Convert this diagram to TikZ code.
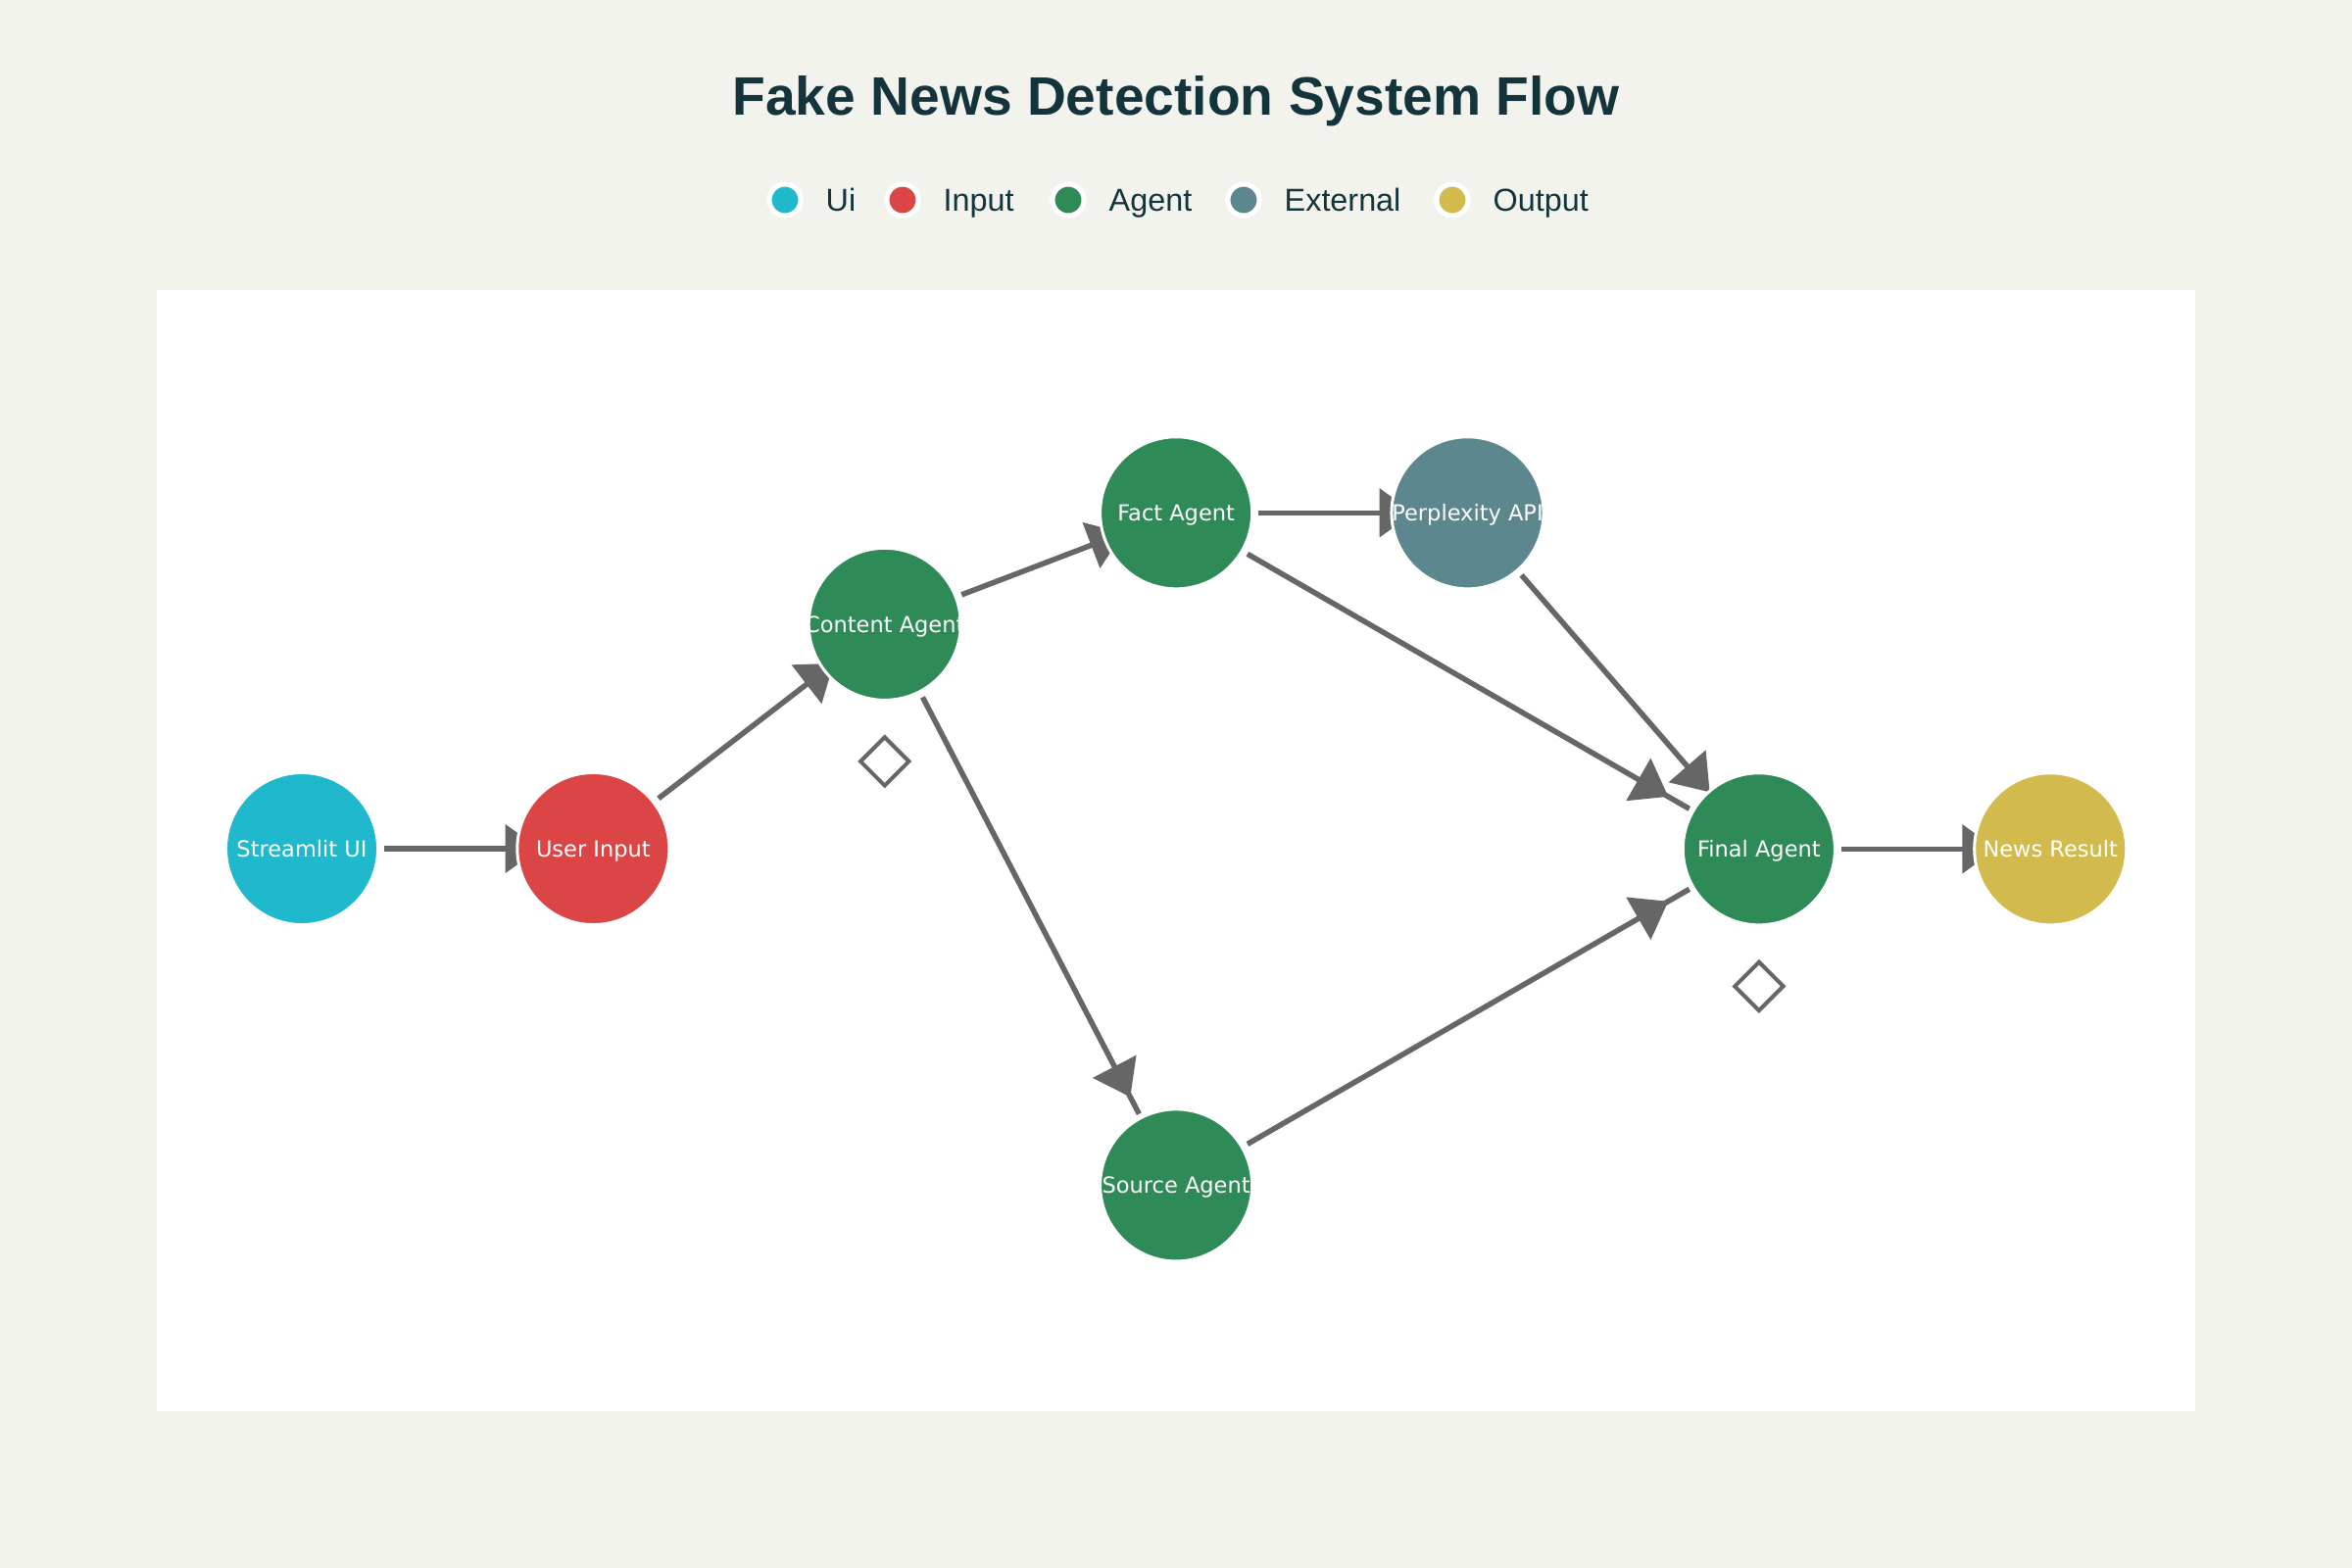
\documentclass[tikz,border=0pt]{standalone}
\usepackage{fontspec}
\setmainfont{Liberation Sans}
\newfontfamily\labelfont{DejaVu Sans}
\usetikzlibrary{positioning,shapes.geometric,arrows.meta,decorations.markings,backgrounds}
\definecolor{pagebg}{HTML}{F3F3EE}
\definecolor{titlecol}{HTML}{13343B}
\definecolor{uicol}{HTML}{1FB8CD}
\definecolor{inputcol}{HTML}{DB4545}
\definecolor{agentcol}{HTML}{2E8B57}
\definecolor{extcol}{HTML}{5D878F}
\definecolor{outcol}{HTML}{D2BA4C}
\definecolor{edgecol}{HTML}{666666}
\begin{document}
\begin{tikzpicture}[x=0.01cm, y=-0.01cm, node distance=2.972cm,
  dot/.style={circle, draw=white, line width=0.03cm, minimum size=1.55cm, inner sep=0pt},
  inlabel/.style={text=white, font=\labelfont\fontsize{6.4}{7.7}\selectfont, text height=4.67pt, text depth=0pt, inner sep=0pt},
  swatch/.style={circle, draw=white, line width=0.05cm, minimum size=0.32cm, inner sep=0pt},
  swatchtext/.style={text=titlecol, font=\fontsize{9.2}{11}\selectfont, text height=6.6pt, text depth=0pt, inner sep=0pt},
  rhomb/.style={diamond, draw=edgecol, line width=0.04cm, minimum width=0.51cm, minimum height=0.51cm, inner sep=0pt},
  flow/.style={color=edgecol,
    postaction={draw, line width=0.055cm, shorten <=0.84cm, shorten >=0.82cm},
    postaction={decorate, decoration={markings, mark=at position {0.866*\pgfdecoratedpathlength-0.15cm} with {\arrow{Triangle[length=0.35cm, width=0.5cm]}}}}}]
\node[text=titlecol, font=\bfseries\fontsize{15.7}{19}\selectfont, text height=11.25pt, text depth=0pt, inner sep=0pt] (title) at (1200,98) {Fake News Detection System Flow};
\node[swatch, fill=uicol] (k1) at (801,204) {};
\node[swatchtext, right=0.225cm of k1] (t1) {Ui};
\node[swatch, fill=inputcol] (k2) at (921,204) {};
\node[swatchtext, right=0.225cm of k2] (t2) {Input};
\node[swatch, fill=agentcol] (k3) at (1090,204) {};
\node[swatchtext, right=0.225cm of k3] (t3) {Agent};
\node[swatch, fill=extcol] (k4) at (1269,204) {};
\node[swatchtext, right=0.225cm of k4] (t4) {External};
\node[swatch, fill=outcol] (k5) at (1482,204) {};
\node[swatchtext, right=0.225cm of k5] (t5) {Output};
\node[dot, fill=uicol, label={[inlabel]center:Streamlit UI}] (1) at (308,866) {};
\node[dot, fill=inputcol, right of=1, label={[inlabel]center:User Input}] (2) {};
\node[dot, fill=agentcol, right of=2, yshift=2.29cm, label={[inlabel]center:Content Agent}] (3) {};
\node[dot, fill=agentcol, right of=3, yshift=1.135cm, label={[inlabel]center:Fact Agent}] (4) {};
\node[dot, fill=extcol, right of=4, label={[inlabel]center:Perplexity API}] (5) {};
\node[dot, fill=agentcol, right of=5, yshift=-3.428cm, label={[inlabel]center:Final Agent}] (6) {};
\node[dot, fill=outcol, right of=6, label={[inlabel]center:News Result}] (7) {};
\node[dot, fill=agentcol, node distance=6.857cm, below of=4, label={[inlabel]center:Source Agent}] (8) {};
\node[rhomb, node distance=1.4cm, below of=3] (9) {};
\node[rhomb, node distance=1.4cm, below of=6] (10) {};
\begin{scope}[on background layer]
\fill[pagebg] (0,0) rectangle (2400,1600);
\fill[white] (160,296) rectangle (2240,1440);
\path[flow] (1.center) -- (2.center);
\path[flow] (2.center) -- (3.center);
\path[flow] (3.center) -- (4.center);
\path[flow] (3.center) -- (8.center);
\path[flow] (4.center) -- (5.center);
\path[flow] (4.center) -- (6.center);
\path[flow] (5.center) -- (6.center);
\path[flow] (8.center) -- (6.center);
\path[flow] (6.center) -- (7.center);
\end{scope}
\end{tikzpicture}
\end{document}
